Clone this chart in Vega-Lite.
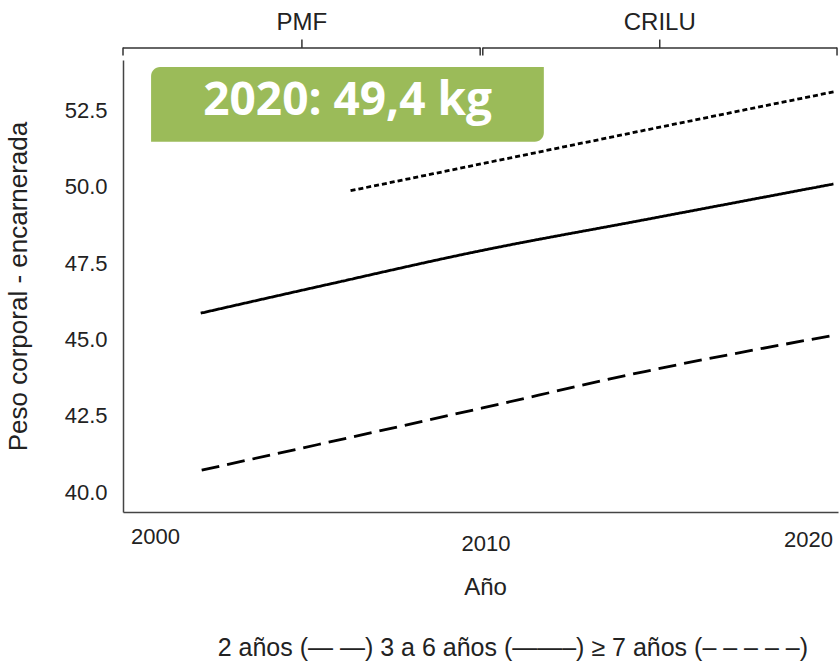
{
  "$schema": "https://vega.github.io/schema/vega-lite/v6.json",
  "width": 715,
  "height": 452,
  "autosize": {"type": "none"},
  "padding": {"left": 123, "top": 60, "right": 1, "bottom": 151},
  "background": "white",
  "config": {"view": {"stroke": null}, "font": "Liberation Sans"},
  "datasets": {
    "series": [
      {"anio": 2001.43, "peso": 40.72, "grupo": "2 años"},
      {"anio": 2005, "peso": 41.56, "grupo": "2 años"},
      {"anio": 2010, "peso": 42.75, "grupo": "2 años"},
      {"anio": 2015, "peso": 43.95, "grupo": "2 años"},
      {"anio": 2020.86, "peso": 45.15, "grupo": "2 años"},
      {"anio": 2001.4, "peso": 45.86, "grupo": "3 a 6 años"},
      {"anio": 2005, "peso": 46.73, "grupo": "3 a 6 años"},
      {"anio": 2010, "peso": 47.91, "grupo": "3 a 6 años"},
      {"anio": 2015, "peso": 48.92, "grupo": "3 a 6 años"},
      {"anio": 2020.78, "peso": 50.09, "grupo": "3 a 6 años"},
      {"anio": 2005.99, "peso": 49.87, "grupo": "≥ 7 años"},
      {"anio": 2010, "peso": 50.75, "grupo": "≥ 7 años"},
      {"anio": 2015, "peso": 51.85, "grupo": "≥ 7 años"},
      {"anio": 2020.8, "peso": 53.11, "grupo": "≥ 7 años"}
    ],
    "periodos": [
      {"periodo": "PMF", "inicio": 1999.02, "fin": 2009.96, "centro": 2004.5},
      {"periodo": "CRILU", "inicio": 2010.04, "fin": 2020.89, "centro": 2015.46}
    ]
  },
  "layer": [
    {
      "data": {"values": [{"etiqueta": "2020: 49,4 kg"}]},
      "mark": {"type": "rect", "color": "#9BBB59", "cornerRadiusTopLeft": 9, "cornerRadiusBottomRight": 9},
      "encoding": {
        "x": {"datum": 1999.88, "type": "quantitative", "scale": {"domain": [1999.02, 2020.92]}},
        "x2": {"datum": 2011.91},
        "y": {"datum": 53.92, "type": "quantitative", "scale": {"domain": [39.35, 54.15]}},
        "y2": {"datum": 51.47}
      }
    },
    {
      "data": {"values": [{"etiqueta": "2020: 49,4 kg"}]},
      "mark": {"type": "text", "font": "Open Sans", "fontWeight": "bold", "fontSize": 46, "color": "white", "align": "center", "baseline": "alphabetic"},
      "encoding": {
        "x": {"datum": 2005.9, "type": "quantitative"},
        "y": {"datum": 52.35, "type": "quantitative"},
        "text": {"field": "etiqueta"}
      }
    },
    {
      "data": {"name": "series"},
      "mark": {"type": "line", "color": "black", "strokeWidth": 2.8, "interpolate": "monotone"},
      "encoding": {
        "x": {
          "field": "anio", "type": "quantitative",
          "scale": {"domain": [1999.02, 2020.92], "nice": false, "zero": false},
          "axis": {
            "values": [2000, 2010, 2020], "format": "d", "ticks": false, "grid": false,
            "domainColor": "#444", "domainWidth": 1.5,
            "labelFont": "Liberation Sans", "labelFontSize": 22, "labelColor": "#222",
            "labelBaseline": "alphabetic",
            "labelPadding": {"condition": [{"test": "datum.value == 2010", "value": 38}, {"test": "datum.value == 2020", "value": 34}], "value": 31},
            "labelOffset": {"condition": [{"test": "datum.value == 2010", "value": 4}], "value": 0},
            "title": "Año", "titleFont": "Liberation Sans", "titleFontSize": 24, "titleFontWeight": "normal", "titleColor": "#222",
            "titleX": 362, "titleY": 82, "titleAlign": "center", "titleBaseline": "alphabetic", "titleAnchor": null
          }
        },
        "y": {
          "field": "peso", "type": "quantitative",
          "scale": {"domain": [39.35, 54.15], "nice": false, "zero": false},
          "axis": {
            "values": [40, 42.5, 45, 47.5, 50, 52.5], "format": ".1f", "ticks": false, "grid": false,
            "domainColor": "#444", "domainWidth": 1.5,
            "labelFont": "Liberation Sans", "labelFontSize": 22, "labelColor": "#222", "labelPadding": 16,
            "title": "Peso corporal - encarnerada", "titleFont": "Liberation Sans", "titleFontSize": 26, "titleFontWeight": "normal", "titleColor": "#222",
            "titleX": -105, "titleY": 226, "titleAlign": "center", "titleBaseline": "middle", "titleAngle": -90
          }
        },
        "detail": {"field": "grupo"},
        "strokeDash": {
          "field": "grupo", "type": "nominal",
          "scale": {"domain": ["2 años", "3 a 6 años", "≥ 7 años"], "range": [[18, 8], [1, 0], [5, 3]]},
          "legend": null
        }
      }
    },
    {
      "data": {"name": "periodos"},
      "mark": {"type": "rule", "color": "#333", "strokeWidth": 1.5, "clip": false},
      "encoding": {
        "x": {"field": "inicio", "type": "quantitative"},
        "x2": {"field": "fin"},
        "y": {"datum": 54.54, "type": "quantitative"}
      }
    },
    {
      "data": {"name": "periodos"},
      "mark": {"type": "rule", "color": "#333", "strokeWidth": 1.5, "clip": false},
      "encoding": {
        "x": {"field": "inicio", "type": "quantitative"},
        "y": {"datum": 54.56, "type": "quantitative"},
        "y2": {"datum": 54.3}
      }
    },
    {
      "data": {"name": "periodos"},
      "mark": {"type": "rule", "color": "#333", "strokeWidth": 1.5, "clip": false},
      "encoding": {
        "x": {"field": "fin", "type": "quantitative"},
        "y": {"datum": 54.56, "type": "quantitative"},
        "y2": {"datum": 54.3}
      }
    },
    {
      "data": {"name": "periodos"},
      "mark": {"type": "rule", "color": "#333", "strokeWidth": 1.5, "clip": false},
      "encoding": {
        "x": {"field": "centro", "type": "quantitative"},
        "y": {"datum": 54.54, "type": "quantitative"},
        "y2": {"datum": 54.82}
      }
    },
    {
      "data": {"name": "periodos"},
      "mark": {"type": "text", "fontSize": 24, "font": "Liberation Sans", "color": "#222", "align": "center", "baseline": "alphabetic", "clip": false},
      "encoding": {
        "x": {"field": "centro", "type": "quantitative"},
        "y": {"datum": 55.13, "type": "quantitative"},
        "text": {"field": "periodo"}
      }
    },
    {
      "data": {"values": [{"leyenda": "2 años (—  —)  3 a 6 años (——–) ≥ 7 años (– – – – –)"}]},
      "mark": {"type": "text", "fontSize": 25, "font": "Liberation Sans", "color": "#222", "align": "center", "baseline": "middle", "clip": false},
      "encoding": {
        "x": {"datum": 2010.96, "type": "quantitative"},
        "y": {"datum": 34.9, "type": "quantitative"},
        "text": {"field": "leyenda"}
      }
    }
  ]
}
